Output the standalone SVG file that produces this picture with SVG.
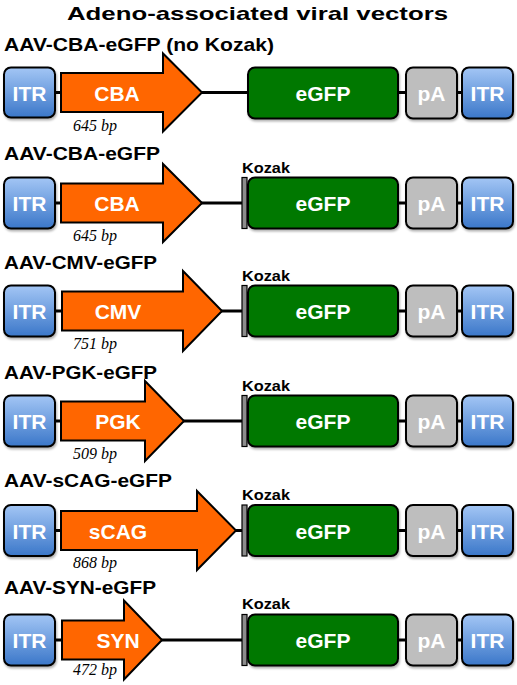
<svg xmlns="http://www.w3.org/2000/svg" width="517" height="685" viewBox="0 0 517 685">
<defs>
<linearGradient id="itrG" x1="0" y1="0" x2="0" y2="1">
<stop offset="0" stop-color="#a3c6f5"/>
<stop offset="1" stop-color="#3b77c9"/>
</linearGradient>
<filter id="sh" x="-10%" y="-10%" width="130%" height="140%">
<feDropShadow dx="1" dy="2" stdDeviation="1.2" flood-color="#000" flood-opacity="0.3"/>
</filter>
<style>
.itr{fill:url(#itrG);stroke:#000;stroke-width:2;filter:url(#sh)}
.gfp{fill:#067806;stroke:#000;stroke-width:2;filter:url(#sh)}
.pa{fill:#bebebe;stroke:#000;stroke-width:2;filter:url(#sh)}
.koz{fill:#8c8c8c;stroke:#000;stroke-width:1.2}
.arr{fill:#ff6600;stroke:#000;stroke-width:2;stroke-linejoin:miter}
.bt{font-family:"Liberation Sans",Arial,sans-serif;font-weight:bold;fill:#fff;font-size:21px;text-anchor:middle}
.hd{font-family:"Liberation Sans",Arial,sans-serif;font-weight:bold;fill:#000;font-size:19px}
.kz{font-family:"Liberation Sans",Arial,sans-serif;font-weight:bold;fill:#000;font-size:14px}
.bp{font-family:"Liberation Serif","Times New Roman",serif;font-style:italic;fill:#000;font-size:16px}
.ln{stroke:#000;stroke-width:3}
</style>
</defs>
<rect width="517" height="685" fill="#fff"/>
<text x="67" y="20" class="hd" font-size="23" textLength="381" lengthAdjust="spacingAndGlyphs">Adeno-associated viral vectors</text>

<g id="connectors">
<line class="ln" x1="55" y1="92.5" x2="462" y2="92.5"/>
<line class="ln" x1="55" y1="203" x2="462" y2="203"/>
<line class="ln" x1="55" y1="311" x2="462" y2="311"/>
<line class="ln" x1="55" y1="421" x2="462" y2="421"/>
<line class="ln" x1="55" y1="530.5" x2="462" y2="530.5"/>
<line class="ln" x1="55" y1="640" x2="462" y2="640"/>
</g>

<g id="row1">
<text class="hd" x="4" y="51" textLength="270" lengthAdjust="spacingAndGlyphs">AAV-CBA-eGFP (no Kozak)</text>
<g id="r1-itrL"><rect class="itr" x="4" y="67.5" width="51" height="50" rx="7"/><text class="bt" x="29.5" y="100.5">ITR</text></g>
<g id="r1-prom"><polygon class="arr" points="61,73 163,73 163,53.5 202,92.5 163,131.5 163,112 61,112"/><text class="bt" x="117" y="100.5">CBA</text><text class="bp" x="73" y="130.5">645 bp</text></g>
<g id="r1-gfp"><rect class="gfp" x="248" y="67.5" width="150" height="51" rx="7"/><text class="bt" x="323" y="100.5">eGFP</text></g>
<g id="r1-pa"><rect class="pa" x="406" y="67.5" width="51" height="51" rx="7"/><text class="bt" x="431.5" y="100.5">pA</text></g>
<g id="r1-itrR"><rect class="itr" x="462" y="67.5" width="51" height="51" rx="7"/><text class="bt" x="487.5" y="100.5">ITR</text></g>
</g>

<g id="row2">
<text class="hd" x="4" y="160" textLength="156" lengthAdjust="spacingAndGlyphs">AAV-CBA-eGFP</text>
<g id="r2-itrL"><rect class="itr" x="4" y="177.5" width="51" height="51" rx="7"/><text class="bt" x="29.5" y="211">ITR</text></g>
<g id="r2-prom"><polygon class="arr" points="61,183.5 163,183.5 163,164 202,203 163,242 163,222.5 61,222.5"/><text class="bt" x="117" y="211">CBA</text><text class="bp" x="73" y="241">645 bp</text></g>
<g id="r2-koz"><rect class="koz" x="242" y="177.5" width="5" height="51"/><text class="kz" x="242" y="172.5" textLength="48" lengthAdjust="spacingAndGlyphs">Kozak</text></g>
<g id="r2-gfp"><rect class="gfp" x="248" y="177.5" width="150" height="51" rx="7"/><text class="bt" x="323" y="211">eGFP</text></g>
<g id="r2-pa"><rect class="pa" x="406" y="177.5" width="51" height="51" rx="7"/><text class="bt" x="431.5" y="211">pA</text></g>
<g id="r2-itrR"><rect class="itr" x="462" y="177.5" width="51" height="51" rx="7"/><text class="bt" x="487.5" y="211">ITR</text></g>
</g>

<g id="row3">
<text class="hd" x="4" y="269" textLength="153" lengthAdjust="spacingAndGlyphs">AAV-CMV-eGFP</text>
<g id="r3-itrL"><rect class="itr" x="4" y="285.5" width="51" height="51" rx="7"/><text class="bt" x="29.5" y="319">ITR</text></g>
<g id="r3-prom"><polygon class="arr" points="62,291.5 183,291.5 183,271 222,311 183,351 183,330.5 62,330.5"/><text class="bt" x="118" y="319">CMV</text><text class="bp" x="73" y="349">751 bp</text></g>
<g id="r3-koz"><rect class="koz" x="242" y="285.5" width="5" height="51"/><text class="kz" x="242" y="280.5" textLength="48" lengthAdjust="spacingAndGlyphs">Kozak</text></g>
<g id="r3-gfp"><rect class="gfp" x="248" y="285.5" width="150" height="51" rx="7"/><text class="bt" x="323" y="319">eGFP</text></g>
<g id="r3-pa"><rect class="pa" x="406" y="285.5" width="51" height="51" rx="7"/><text class="bt" x="431.5" y="319">pA</text></g>
<g id="r3-itrR"><rect class="itr" x="462" y="285.5" width="51" height="51" rx="7"/><text class="bt" x="487.5" y="319">ITR</text></g>
</g>

<g id="row4">
<text class="hd" x="4" y="379" textLength="153" lengthAdjust="spacingAndGlyphs">AAV-PGK-eGFP</text>
<g id="r4-itrL"><rect class="itr" x="4" y="395.5" width="51" height="51" rx="7"/><text class="bt" x="29.5" y="429">ITR</text></g>
<g id="r4-prom"><polygon class="arr" points="61,401.5 145,401.5 145,381 184,421 145,461 145,440.5 61,440.5"/><text class="bt" x="118" y="429">PGK</text><text class="bp" x="73" y="459">509 bp</text></g>
<g id="r4-koz"><rect class="koz" x="242" y="395.5" width="5" height="51"/><text class="kz" x="242" y="390.5" textLength="48" lengthAdjust="spacingAndGlyphs">Kozak</text></g>
<g id="r4-gfp"><rect class="gfp" x="248" y="395.5" width="150" height="51" rx="7"/><text class="bt" x="323" y="429">eGFP</text></g>
<g id="r4-pa"><rect class="pa" x="406" y="395.5" width="51" height="51" rx="7"/><text class="bt" x="431.5" y="429">pA</text></g>
<g id="r4-itrR"><rect class="itr" x="462" y="395.5" width="51" height="51" rx="7"/><text class="bt" x="487.5" y="429">ITR</text></g>
</g>

<g id="row5">
<text class="hd" x="4" y="487" textLength="168" lengthAdjust="spacingAndGlyphs">AAV-sCAG-eGFP</text>
<g id="r5-itrL"><rect class="itr" x="4" y="505" width="51" height="51" rx="7"/><text class="bt" x="29.5" y="538.5">ITR</text></g>
<g id="r5-prom"><polygon class="arr" points="61,511 197,511 197,491 236,530.5 197,570 197,550 61,550"/><text class="bt" x="118" y="538.5">sCAG</text><text class="bp" x="73" y="567.5">868 bp</text></g>
<g id="r5-koz"><rect class="koz" x="242" y="505" width="5" height="51"/><text class="kz" x="242" y="500" textLength="48" lengthAdjust="spacingAndGlyphs">Kozak</text></g>
<g id="r5-gfp"><rect class="gfp" x="248" y="505" width="150" height="51" rx="7"/><text class="bt" x="323" y="538.5">eGFP</text></g>
<g id="r5-pa"><rect class="pa" x="406" y="505" width="51" height="51" rx="7"/><text class="bt" x="431.5" y="538.5">pA</text></g>
<g id="r5-itrR"><rect class="itr" x="462" y="505" width="51" height="51" rx="7"/><text class="bt" x="487.5" y="538.5">ITR</text></g>
</g>

<g id="row6">
<text class="hd" x="4" y="594" textLength="152" lengthAdjust="spacingAndGlyphs">AAV-SYN-eGFP</text>
<g id="r6-itrL"><rect class="itr" x="4" y="614.5" width="51" height="51" rx="7"/><text class="bt" x="29.5" y="648">ITR</text></g>
<g id="r6-prom"><polygon class="arr" points="62,620.5 124,620.5 124,600.5 162,640 124,679.5 124,659.5 62,659.5"/><text class="bt" x="118" y="648">SYN</text><text class="bp" x="73" y="675">472 bp</text></g>
<g id="r6-koz"><rect class="koz" x="242" y="614.5" width="5" height="51"/><text class="kz" x="242" y="608.5" textLength="48" lengthAdjust="spacingAndGlyphs">Kozak</text></g>
<g id="r6-gfp"><rect class="gfp" x="248" y="614.5" width="150" height="51" rx="7"/><text class="bt" x="323" y="648">eGFP</text></g>
<g id="r6-pa"><rect class="pa" x="406" y="614.5" width="51" height="51" rx="7"/><text class="bt" x="431.5" y="648">pA</text></g>
<g id="r6-itrR"><rect class="itr" x="462" y="614.5" width="51" height="51" rx="7"/><text class="bt" x="487.5" y="648">ITR</text></g>
</g>
</svg>
